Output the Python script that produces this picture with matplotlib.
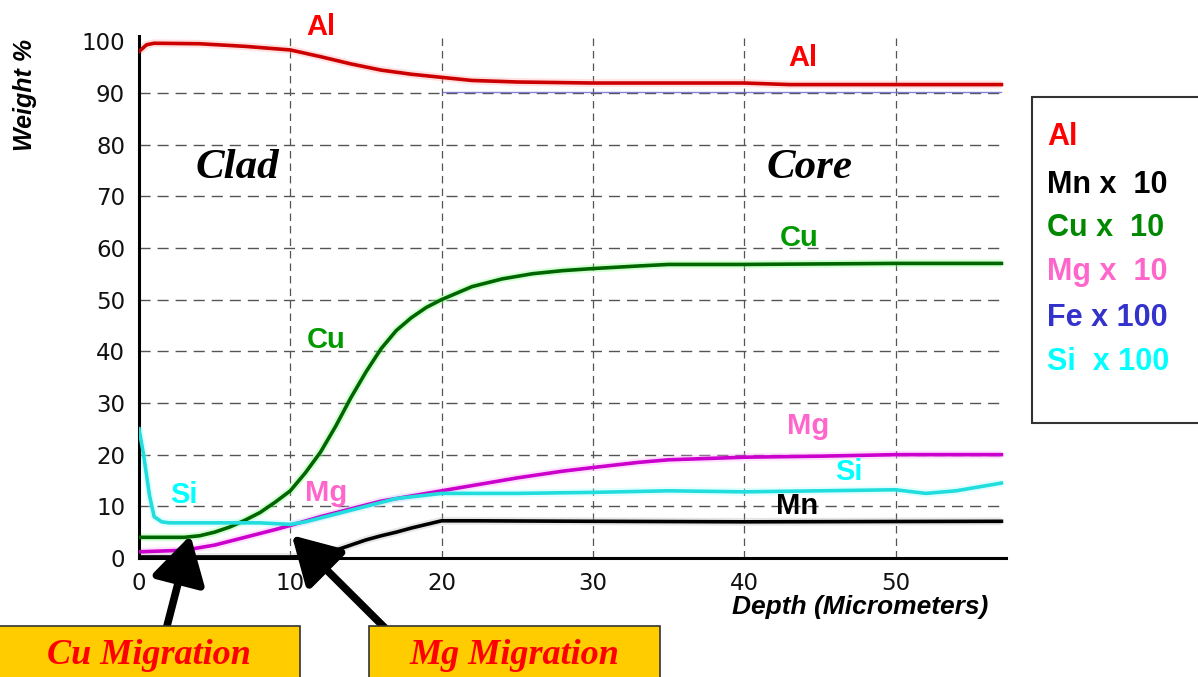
import matplotlib
matplotlib.use("Agg")
import matplotlib.pyplot as plt
from matplotlib.patches import Rectangle

W, H = 1198, 677

# ---- data ----
al_x = [0, 0.5, 1, 4, 7, 10, 12, 14, 16, 18, 20, 22, 25, 30, 40, 43, 57]
al_y = [98, 99.3, 99.6, 99.5, 99, 98.3, 97, 95.6, 94.4, 93.6, 93, 92.4, 92.1, 91.9, 91.9, 91.6, 91.6]

cu_x = [0, 3, 4, 5, 6, 7, 8, 9, 10, 11, 12, 13, 14, 15, 16, 17, 18, 19, 20, 22, 24, 26, 28, 30, 33, 35, 40, 50, 57]
cu_y = [4, 4, 4.3, 5, 6, 7.3, 8.8, 10.8, 13, 16.5, 20.5, 25.5, 31, 36, 40.5, 44, 46.5, 48.5, 50, 52.5, 54, 55, 55.6, 56, 56.5, 56.8, 56.8, 57, 57]

mg_x = [0, 3, 5, 7, 9, 10, 12, 14, 16, 18, 20, 22, 25, 28, 30, 33, 35, 40, 45, 50, 57]
mg_y = [1.2, 1.5, 2.5, 4, 5.5, 6.3, 8, 9.5, 11, 12, 13, 14, 15.5, 16.8, 17.5, 18.5, 19, 19.5, 19.7, 20, 20]

si_x = [0, 0.3, 0.7, 1, 1.5, 2, 5, 8, 10, 11, 13, 15, 17, 20, 25, 30, 35, 40, 45, 50, 52, 54, 57]
si_y = [25, 20, 12, 8, 7, 6.8, 6.8, 6.8, 6.5, 7, 8.5, 10, 11.5, 12.5, 12.5, 12.7, 13, 12.8, 13, 13.2, 12.5, 13, 14.5]

mn_x = [0, 10, 11, 12, 13, 14, 15, 16, 17, 18, 19, 20, 22, 30, 40, 57]
mn_y = [0.2, 0.2, 0.3, 0.8, 1.5, 2.5, 3.5, 4.3, 5, 5.8, 6.5, 7.2, 7.2, 7.1, 7.0, 7.1]

fe_x = [20, 57]
fe_y = [90.2, 90.2]

xticks = [0, 10, 20, 30, 40, 50]
yticks = [0, 10, 20, 30, 40, 50, 60, 70, 80, 90, 100]
legend_labels = ["Al", "Mn x  10", "Cu x  10", "Mg x  10", "Fe x 100", "Si  x 100"]
legend_colors = ["#FF0000", "#000000", "#008800", "#FF66CC", "#3333CC", "#00FFFF"]

fig = plt.figure(figsize=(W / 100, H / 100), dpi=100)
ax = fig.add_axes([139 / W, 1 - 558 / H, (1006 - 139) / W, (558 - 36) / H])
ax.set_xlim(0, 57.3)
ax.set_ylim(0, 101)

# grid
for yv in yticks[1:-1]:
    ax.axhline(yv, color="#555555", lw=1.0, ls=(0, (8, 5)), zorder=1)
for xv in xticks[1:]:
    ax.axvline(xv, color="#555555", lw=0.9, ls=(0, (6, 4)), zorder=1)

# curves (light halo + line)
def curve(x, y, color, halo, lw=2.6):
    ax.plot(x, y, color=halo, lw=lw + 3, alpha=0.35, solid_capstyle="butt", zorder=2)
    ax.plot(x, y, color=color, lw=lw, zorder=3)

ax.plot(fe_x, fe_y, color="#6666CC", lw=1.0, alpha=0.8, zorder=2)
curve(al_x, al_y, "#CC0000", "#FFAAAA")
curve(cu_x, cu_y, "#006600", "#88FF88")
curve(mg_x, mg_y, "#CC00CC", "#FFAAFF")
curve(si_x, si_y, "#22DDDD", "#AAFFFF")
curve(mn_x, mn_y, "#000000", "#BBBBBB")

# spines / ticks
for s in ["top", "right"]:
    ax.spines[s].set_visible(False)
ax.spines["left"].set_linewidth(2.2)
ax.spines["bottom"].set_linewidth(2.2)
ax.set_xticks(xticks)
ax.set_yticks(yticks)
ax.tick_params(length=0, labelsize=16.5, colors="#111111", pad=10)

ax.set_xlabel("Depth (Micrometers)", fontsize=19, fontweight="bold", style="italic",
              family="Liberation Sans")
ax.xaxis.set_label_coords((988 - 139) / (1006 - 139), -0.07)
ax.xaxis.label.set_horizontalalignment("right")
fig.text(25 / W, 1 - 95 / H, "Weight %", rotation=90, fontsize=18, fontweight="bold",
         style="italic", family="Liberation Sans", ha="center", va="center")

lab = dict(fontweight="bold", family="Liberation Sans", ha="center", va="center",
           fontsize=21, clip_on=False)
ax.text(12.0, 102.8, "Al", color="#FF0000", **lab)
ax.text(43.9, 96.7, "Al", color="#FF0000", **lab)
ax.text(43.6, 61.9, "Cu", color="#009900", **lab)
ax.text(12.4, 42.2, "Cu", color="#009900", **lab)
ax.text(44.2, 25.5, "Mg", color="#FF66CC", **lab)
ax.text(46.9, 16.6, "Si", color="#00FFFF", **lab)
ax.text(43.5, 10.0, "Mn", color="#000000", **lab)
ax.text(3.0, 12.2, "Si", color="#00FFFF", **lab)
ax.text(12.4, 12.6, "Mg", color="#FF66CC", **lab)

ser = dict(fontweight="bold", style="italic", family="Liberation Serif", ha="center",
           va="center", fontsize=31)
ax.text(6.5, 75.4, "Clad", **ser)
ax.text(44.3, 75.4, "Core", **ser)

# legend box
fig.patches.append(Rectangle((1032 / W, 1 - 423 / H), 0.2, (423 - 97) / H,
                             transform=fig.transFigure, facecolor="white",
                             edgecolor="#333333", lw=1.5))
for i, (t, c) in enumerate(zip(legend_labels, legend_colors)):
    yy = [137, 185, 228, 272, 318, 362][i]
    fig.text(1047 / W, 1 - yy / H, t, color=c, fontsize=22, fontweight="bold",
             family="Liberation Sans", ha="left", va="center")

# migration boxes
for (x0, x1, txt) in [(-2, 300, "Cu Migration"), (369, 660, "Mg Migration")]:
    fig.patches.append(Rectangle((x0 / W, 0 - 0.01), (x1 - x0) / W, (677 - 626) / H + 0.01,
                                 transform=fig.transFigure, facecolor="#FFCC00",
                                 edgecolor="#333333", lw=1.2))
    fig.text((x0 + x1) / 2 / W, 1 - 656 / H, txt, color="#FF0000", fontsize=26,
             fontweight="bold", style="italic", family="Liberation Serif",
             ha="center", va="center")

# arrows
arrow = dict(arrowstyle="-|>,head_width=0.75,head_length=1.3", color="black", lw=5.5,
             shrinkA=0, shrinkB=0, mutation_scale=22)
ax.annotate("", xy=(3.4, 4.4), xycoords="data", xytext=(167 / W, 1 - 626 / H),
            textcoords="figure fraction", arrowprops=arrow, annotation_clip=False)
ax.annotate("", xy=(10.1, 4.4), xycoords="data", xytext=(385 / W, 1 - 628 / H),
            textcoords="figure fraction", arrowprops=arrow, annotation_clip=False)

fig.savefig("out.png", dpi=100)
